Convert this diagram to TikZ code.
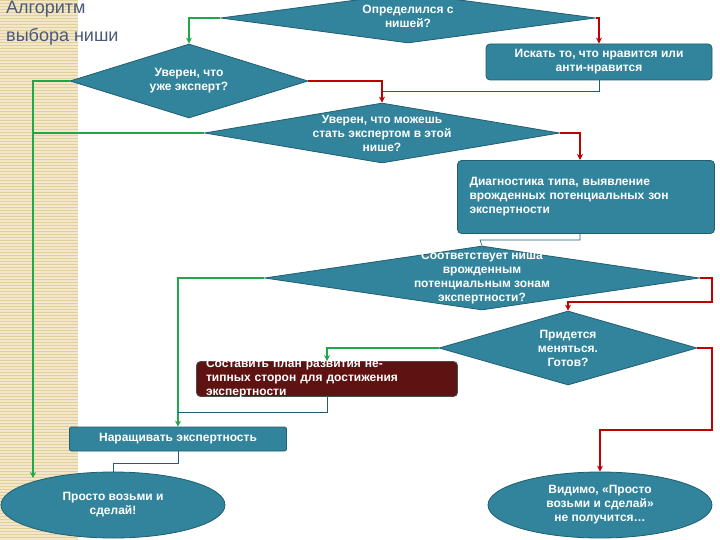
\documentclass[tikz,border=0pt]{standalone}
\usepackage{fontspec}
\setmainfont{Liberation Sans}
\usetikzlibrary{shapes.geometric,arrows.meta,patterns}
\definecolor{tealf}{HTML}{31849B}
\definecolor{teald}{HTML}{215E70}
\definecolor{grn}{HTML}{1FA84A}
\definecolor{rd}{HTML}{C00000}
\definecolor{dred}{HTML}{5E1212}
\definecolor{beige}{HTML}{F3E7C9}
\definecolor{beiged}{HTML}{E2CFA0}
\definecolor{ttl}{HTML}{4A5A78}
\begin{document}
\begin{tikzpicture}[x=1pt,y=-1pt,
  dia/.style={diamond,draw=teald,fill=tealf,inner sep=0pt,line width=0.8pt},
  box/.style={draw=teald,fill=tealf,rounded corners=4pt,line width=0.8pt},
  ell/.style={ellipse,draw=teald,fill=tealf,line width=0.8pt,inner sep=0pt},
  txt/.style={text=white,font=\bfseries\fontsize{12}{14}\selectfont,align=center},
  yes/.style={draw=grn,line width=1.6pt,-{Stealth[length=6pt,width=6pt]}},
  no/.style={draw=rd,line width=1.6pt,-{Stealth[length=6pt,width=6pt]}},
  thin/.style={draw=teald,line width=0.6pt}]
\useasboundingbox (0,0) rectangle (720,540);
\fill[white] (0,0) rectangle (720,540);
\fill[beige] (0,0) rectangle (78,540);
\foreach \y in {0,3,...,540} \draw[beiged,line width=0.5pt] (0,\y) -- (78,\y);
\node[anchor=north west,text=ttl,font=\fontsize{18}{28}\selectfont,align=left,inner sep=0pt] (title) at (6,1) {Алгоритм\\выбора ниши};

\node[dia,minimum width=375,minimum height=50] (d1) at (408,18) {};
\node[txt] (t1) at (408,16) {Определился с\\нишей?};
\node[box,minimum width=226,minimum height=36] (b1) at (599,62) {};
\node[txt] (tb1) at (599,62) {Искать то, что нравится или\\анти-нравится};
\node[dia,minimum width=238,minimum height=74] (d2) at (189,81) {};
\node[txt] (t2) at (189,81) {Уверен, что\\уже эксперт?};
\node[dia,minimum width=355,minimum height=60] (d3) at (382,133) {};
\node[txt] (t3) at (382,133) {Уверен, что можешь\\стать экспертом в этой\\нише?};
\node[box,minimum width=257,minimum height=73] (b2) at (586,197) {};
\node[txt,align=left,text width=245] (tb2) at (592,197) {Диагностика типа, выявление\\врожденных потенциальных зон\\экспертности};
\node[dia,minimum width=435,minimum height=64] (d4) at (482,278) {};
\node[txt] (t4) at (482,278) {Соответствует ниша\\врожденным\\потенциальным зонам\\экспертности?};
\node[dia,minimum width=258,minimum height=74] (d5) at (568,348) {};
\node[txt] (t5) at (568,348) {Придется\\меняться.\\Готов?};
\node[box,draw=black!70,fill=dred,minimum width=261,minimum height=35] (b3) at (327,379) {};
\node[txt,align=left,text width=252] (tb3) at (332,379) {Составить план развития не-\\типных сторон для достижения\\экспертности};
\node[box,minimum width=217,minimum height=24,rounded corners=2pt] (b4) at (178,439) {};
\node[txt] (tb4) at (178,439) {Наращивать экспертность};
\node[ell,minimum width=224,minimum height=66] (e1) at (113,505) {};
\node[txt] (te1) at (113,505) {Просто возьми и\\сделай!};
\node[ell,minimum width=224,minimum height=66] (e2) at (600,505) {};
\node[txt] (te2) at (600,505) {Видимо, «Просто\\возьми и сделай»\\не получится…};

\draw[yes] (d1.west) -| (d2.north);
\draw[no] (d1.east) -| (b1.north);
\draw[yes] (d2.west) -| (33,478);
\draw[no] (d2.east) -| (d3.north);
\draw[thin] (b1.south) |- (383,91);
\draw[draw=grn,line width=1.6pt] (d3.west) -- (33,133);
\draw[no] (d3.east) -| (580,160);
\draw[thin] (580,233) |- (480,240) -- (d4.north);
\draw[yes] (d4.west) -| (b4.north);
\draw[no] (d4.east) -- (712,278) |- (568,302) -- (d5.north);
\draw[yes] (d5.west) -| (b3.north);
\draw[thin] (b3.south) |- (178,412);
\draw[no] (d5.east) -- (712,348) |- (600,430) -- (e2.north);
\draw[thin] (b4.south) |- (113,463) -- (e1.north);
\end{tikzpicture}
\end{document}
